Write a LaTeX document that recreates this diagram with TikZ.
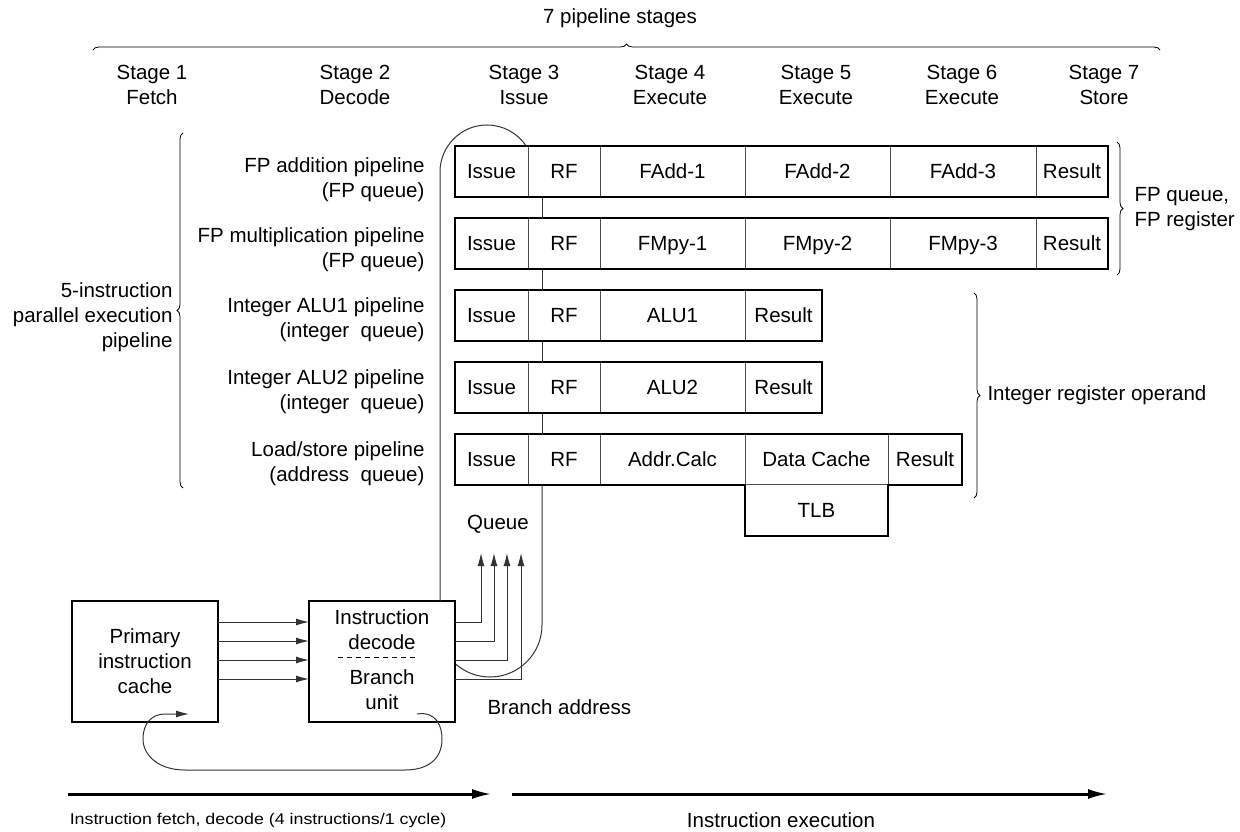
\documentclass[tikz,border=0pt]{standalone}
\usepackage{fontspec}
\setmainfont{Liberation Sans}
\usetikzlibrary{arrows.meta,decorations.pathreplacing}

\begin{document}
\begin{tikzpicture}
  [x=1pt,y=1pt,font=\fontsize{20.5}{25}\selectfont,
   cell/.style={rectangle,draw=black!70,line width=1pt,fill=white,
                minimum height=51,inner sep=0,outer sep=0,
                text height=16,text depth=1},
   blockbox/.style={rectangle,draw=black,line width=2.8pt,align=center,
                    minimum width=146,minimum height=121,inner sep=0,outer sep=0},
   rowframe/.style={draw=black,line width=2.8pt,line join=miter},
   txt/.style={align=center},
   rowtxt/.style={anchor=east,align=right},
   link/.style={draw=black!80,line width=1pt},
   feed/.style={link,-{Latex[length=13pt,width=7pt]}},
   bigarrow/.style={line width=3pt,-{Latex[length=20pt,width=10pt]}},
   curly/.style={decorate,decoration={brace,amplitude=6pt},line width=0.8pt}]
  \useasboundingbox (0,0) rectangle (1240,831);
  % stages
  \node (title) at (620,813) {7 pipeline stages};
  \coordinate (tb0) at (93,781);
  \coordinate (tb1) at (1160,781);
  \draw[curly] (tb0) -- (tb1);
  \foreach \n/\x/\nm in {1/152/Fetch,2/355/Decode,3/524/Issue,4/670/Execute,
                         5/816/Execute,6/962/Execute,7/1104/Store}
    \node[txt] (stage\n) at (\x,746.5) {Stage \n\\\nm};
  % pipeline names
  \node[rowtxt] (lab1) at (428,651) {FP addition pipeline\\(FP queue)};
  \node[rowtxt] (lab2) at (428,581) {FP multiplication pipeline\\(FP queue)};
  \node[rowtxt] (lab3) at (428,511) {Integer ALU1 pipeline\\(integer\ \ queue)};
  \node[rowtxt] (lab4) at (428,439) {Integer ALU2 pipeline\\(integer\ \ queue)};
  \node[rowtxt] (lab5) at (428,367) {Load/store pipeline\\(address\ \ queue)};
  \draw[curly] (183,343) -- (183,698);
  \node[rowtxt] (par) at (176,514) {5-instruction\\parallel execution\\pipeline};
  % stage cells
  \foreach \r/\y in {1/659.5,2/587.5,3/515.5,4/443.5,5/371.5} {
    \node[cell,minimum width=73] (issue\r) at (491.5,\y) {Issue};
    \node[cell,minimum width=72] (rf\r) at (564,\y) {RF};
  }
  \node[cell,minimum width=145] (fadd1) at (672.5,659.5) {FAdd-1};
  \node[cell,minimum width=145] (fadd2) at (817.5,659.5) {FAdd-2};
  \node[cell,minimum width=146] (fadd3) at (963,659.5) {FAdd-3};
  \node[cell,minimum width=72] (res1) at (1072,659.5) {Result};
  \node[cell,minimum width=145] (fmpy1) at (672.5,587.5) {FMpy-1};
  \node[cell,minimum width=145] (fmpy2) at (817.5,587.5) {FMpy-2};
  \node[cell,minimum width=146] (fmpy3) at (963,587.5) {FMpy-3};
  \node[cell,minimum width=72] (res2) at (1072,587.5) {Result};
  \node[cell,minimum width=145] (alu1) at (672.5,515.5) {ALU1};
  \node[cell,minimum width=77] (res3) at (783.5,515.5) {Result};
  \node[cell,minimum width=145] (alu2) at (672.5,443.5) {ALU2};
  \node[cell,minimum width=77] (res4) at (783.5,443.5) {Result};
  \node[cell,minimum width=145] (addr) at (672.5,371.5) {Addr.Calc};
  \node[cell,minimum width=143] (dcache) at (816.5,371.5) {Data Cache};
  \node[cell,minimum width=74] (res5) at (925,371.5) {Result};
  \node[cell,minimum width=143] (tlb) at (816.5,320.5) {TLB};
  \foreach \r in {1,...,4}
    \draw[rowframe] (issue\r.north west) rectangle (res\r.south east);
  \draw[rowframe] (issue5.north west) -- (res5.north east) -- (res5.south east)
    -- (tlb.north east) -- (tlb.south east) -- (tlb.south west)
    -- (tlb.north west) -- (issue5.south west) -- cycle;
  \foreach \r/\q in {1/2,2/3,3/4,4/5}
    \draw[link] ([xshift=14]rf\r.south west) -- ([xshift=14]rf\q.north west);
  % register braces
  \draw[curly] (1117,689) -- (1117,556);
  \node[anchor=west,align=left] (fpreg) at (1131,622) {FP queue,\\FP register};
  \draw[curly] (974,538) -- (974,333);
  \node[anchor=west] (intreg) at (984,436) {Integer register operand};
  % fetch and decode
  \node[blockbox] (cache) at (145,169.5) {Primary\\instruction\\cache};
  \node[blockbox] (dec) at (382,169.5) {};
  \node[txt] (dectop) at (382,201) {Instruction\\decode};
  \node[txt] (decbot) at (382,141.5) {Branch\\unit};
  \draw[line width=0.8pt,dash pattern=on 5pt off 4pt]
    ([xshift=-44,yshift=4.5]dec.center) -- ([xshift=36,yshift=4.5]dec.center);
  \foreach \dy in {39.5,20.5,1.5,-17.5}
    \draw[feed] ([yshift=\dy]cache.east) -- ([yshift=\dy]dec.west);
  \node (queue) at (498,307) {Queue};
  \coordinate (qbase) at (498,278);
  \foreach \dy/\dx in {39.5/-17,20.5/-4,1.5/9,-17.5/23}
    \draw[feed] ([yshift=\dy]dec.east) -| ([xshift=\dx]qbase);
  \draw[link] ([xshift=14]rf5.south west) -- ++(0,-140)
    arc[start angle=0,end angle=-131,radius=52];
  \draw[link] ([xshift=-15]dec.north east) -- ++(0,429)
    arc[start angle=180,end angle=33,radius=47];
  \node[anchor=west] (braddr) at (484,124) {Branch address};
  \draw[feed] ([shift={(-38,8)}]dec.south east)
    .. controls (437,120) and (442,104) .. (442,92)
    .. controls (442,72) and (428,61) .. (405,61) -- (185,61)
    .. controls (158,61) and (143,76) .. (143,92)
    .. controls (143,108) and (152,117) .. (165,117)
    -- ([shift={(117,8)}]cache.south west);
  % bottom arrows
  \coordinate (fa0) at (68,37);
  \coordinate (fa1) at (492,37);
  \coordinate (ea0) at (512,37);
  \coordinate (ea1) at (1108,37);
  \draw[bigarrow] (fa0) -- (fa1);
  \draw[bigarrow] (ea0) -- (ea1);
  \node (fetchtxt) at (258,11) {\scalebox{1.15}[1]{\fontsize{15.5}{18}\selectfont
    Instruction fetch, decode (4 instructions/1 cycle)}};
  \node (exectxt) at (781,11) {Instruction execution};
\end{tikzpicture}
\end{document}
